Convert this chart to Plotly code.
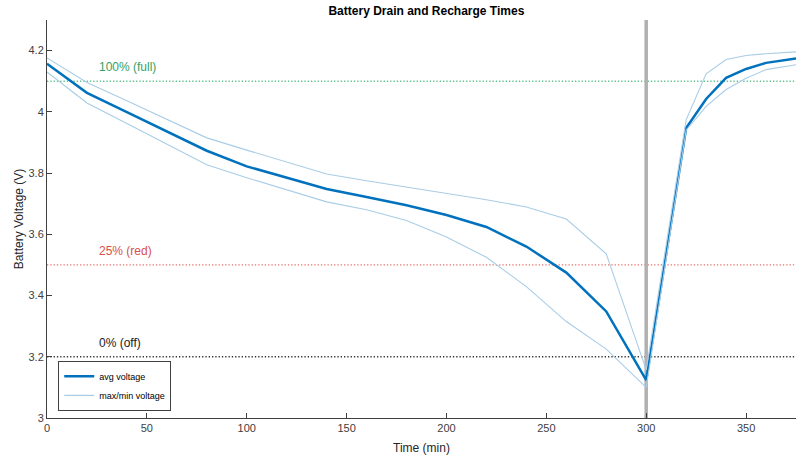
import plotly.graph_objects as go

# ---- data ----
time_min = [0, 20, 40, 60, 80, 100, 120, 140, 160, 180, 200, 220, 240, 260, 280, 300,
            320, 330, 340, 350, 360, 375]
avg_voltage = [4.157, 4.062, 3.999, 3.936, 3.873, 3.822, 3.785, 3.748, 3.722, 3.695, 3.663,
               3.624, 3.560, 3.475, 3.348, 3.124, 3.947, 4.042, 4.111, 4.140, 4.160, 4.174]
max_voltage = [4.176, 4.096, 4.036, 3.975, 3.915, 3.875, 3.835, 3.797, 3.775, 3.755, 3.735,
               3.713, 3.689, 3.650, 3.536, 3.157, 3.974, 4.124, 4.171, 4.184, 4.190, 4.196]
min_voltage = [4.130, 4.029, 3.962, 3.895, 3.827, 3.785, 3.745, 3.706, 3.680, 3.645, 3.591,
               3.525, 3.429, 3.315, 3.225, 3.100, 3.940, 4.018, 4.073, 4.110, 4.138, 4.154]

threshold_values = [4.1, 3.5, 3.2]
threshold_labels = ["100% (full)", "25% (red)", "0% (off)"]
threshold_line_colors = ["#5cc28f", "#e8706a", "#333333"]
threshold_text_colors = ["#34a065", "#d9504a", "#1a1a1a"]
label_time = 25
label_offset = 0.045

charge_start = 300

x_ticks = [0, 50, 100, 150, 200, 250, 300, 350]
y_ticks = [3, 3.2, 3.4, 3.6, 3.8, 4, 4.2]

FONT = "Liberation Sans, Arial, Helvetica, sans-serif"

fig = go.Figure()

fig.add_trace(go.Scatter(x=time_min, y=avg_voltage, mode="lines", name="avg voltage",
                         line=dict(color="#0072BD", width=2.5)))
fig.add_trace(go.Scatter(x=time_min, y=max_voltage, mode="lines", name="max/min voltage",
                         line=dict(color="#a9cde6", width=1.1), legendgroup="mm"))
fig.add_trace(go.Scatter(x=time_min, y=min_voltage, mode="lines", name="max/min voltage",
                         line=dict(color="#a9cde6", width=1.1), legendgroup="mm",
                         showlegend=False))

shapes = []
annotations = []
for v, lab, lc, tc in zip(threshold_values, threshold_labels, threshold_line_colors,
                          threshold_text_colors):
    shapes.append(dict(type="line", xref="paper", yref="y", x0=0, x1=1, y0=v, y1=v,
                       line=dict(color=lc, width=1.3, dash="1.3px,2px"), layer="below"))
    annotations.append(dict(x=label_time, y=v + label_offset, xref="x", yref="y", text=lab,
                            showarrow=False, xanchor="left", yanchor="middle",
                            font=dict(family=FONT, size=12, color=tc)))

shapes.append(dict(type="line", xref="x", yref="paper", x0=charge_start, x1=charge_start,
                   y0=0, y1=1, line=dict(color="#b0b0b0", width=3.5), layer="below"))

fig.update_layout(
    width=797, height=458,
    margin=dict(l=47, r=1, t=20, b=40, autoexpand=False),
    plot_bgcolor="white", paper_bgcolor="white",
    font=dict(family=FONT, size=11, color="#404040"),
    title=dict(text="<b>Battery Drain and Recharge Times</b>", x=0.535, xanchor="center",
               y=0.977, yanchor="middle", font=dict(family=FONT, size=12, color="#000000")),
    shapes=shapes, annotations=annotations,
    showlegend=True,
    legend=dict(x=0.015, y=0.018, xanchor="left", yanchor="bottom",
                bgcolor="white", bordercolor="#404040", borderwidth=1,
                font=dict(family=FONT, size=9, color="#000000"),
                tracegroupgap=0, itemwidth=30),
)

fig.update_xaxes(range=[0, 375], tickvals=x_ticks, ticks="inside", ticklen=5,
                 tickcolor="#404040", showline=True, linecolor="#404040", linewidth=1,
                 showgrid=False, zeroline=False, mirror=False, automargin=False,
                 title=dict(text="Time (min)", font=dict(family=FONT, size=12, color="#262626"),
                            standoff=10),
                 tickfont=dict(size=11, color="#404040"))
fig.update_yaxes(range=[3, 4.3], tickvals=y_ticks, ticks="inside", ticklen=5,
                 tickcolor="#404040", showline=True, linecolor="#404040", linewidth=1,
                 showgrid=False, zeroline=False, mirror=False, automargin=False,
                 title=dict(text="Battery Voltage (V)",
                            font=dict(family=FONT, size=12, color="#262626"), standoff=2),
                 tickfont=dict(size=11, color="#404040"))

fig.write_html("out.html", config={"displayModeBar": False},
               post_script="document.body.style.margin='0';document.body.style.overflow='hidden';")
